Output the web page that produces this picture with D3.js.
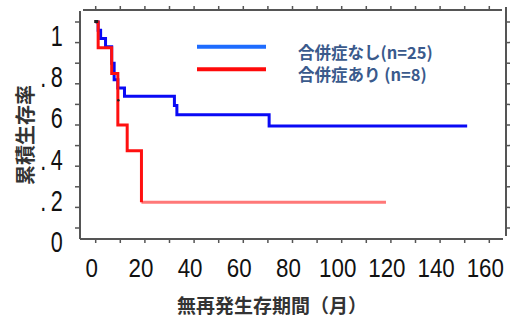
<!DOCTYPE html>
<html><head><meta charset="utf-8">
<script src="https://cdn.jsdelivr.net/npm/d3@7"></script>
<style>html,body{margin:0;padding:0;background:#fff;}svg{display:block;}</style>
</head><body>
<svg id="c" width="512" height="322"></svg>
<script>
// ---- data ----
const blueTimes = [0, 1, 2, 4, 6.5, 7.5, 9, 11.7, 32, 33, 70.5];
const blueSurv  = [1, 0.96, 0.92, 0.88, 0.80, 0.72, 0.68, 0.64, 0.595, 0.55, 0.495];
const blueEnd = 151;
const redTimes = [0, 1, 6.5, 9, 12.8, 18.6];
const redSurv  = [1, 0.875, 0.75, 0.5, 0.375, 0.125];
const redEnd = 118;
const xTickLabels = [0, 20, 40, 60, 80, 100, 120, 140, 160];
const yTickValues = [0, 0.2, 0.4, 0.6, 0.8, 1];
const yTickLabels = ["0", ".2", ".4", "6", ".8", "1"];
const legendLabels = ["合併症なし(n=25)", "合併症あり (n=8)"];
const xTitle = "無再発生存期間（月）";
const yTitle = "累積生存率";

// ---- layout ----
const svg = d3.select("#c");
const x = d3.scaleLinear().domain([0, 160]).range([95.7, 489.3]);
const y = d3.scaleLinear().domain([0, 1]).range([228, 22]);
const axisColor = "#555";
const frameL = 80, frameR = 506, frameT = 10, frameB = 239;
const numFont = "'Liberation Sans', Arial, sans-serif";

// frame
svg.append("line").attr("x1", frameL).attr("x2", frameL).attr("y1", frameT + 1).attr("y2", frameB)
  .attr("stroke", axisColor).attr("stroke-width", 2);
svg.append("line").attr("x1", frameL).attr("x2", 503).attr("y1", frameB).attr("y2", frameB)
  .attr("stroke", axisColor).attr("stroke-width", 2);
svg.append("line").attr("x1", 83).attr("x2", 502).attr("y1", frameT).attr("y2", frameT)
  .attr("stroke", axisColor).attr("stroke-width", 2);
svg.append("line").attr("x1", frameR).attr("x2", frameR).attr("y1", 7).attr("y2", 236)
  .attr("stroke", axisColor).attr("stroke-width", 2);

// ticks
const xMinor = d3.range(0, 161, 10);
const yMinor = d3.range(0, 11).map(d => d / 10);
svg.selectAll(".xtb").data(xMinor).join("line")
  .attr("x1", d => x(d)).attr("x2", d => x(d)).attr("y1", frameB).attr("y2", frameB + 4)
  .attr("stroke", axisColor).attr("stroke-width", 1.5);
svg.selectAll(".xtt").data(xMinor).join("line")
  .attr("x1", d => x(d)).attr("x2", d => x(d)).attr("y1", frameT).attr("y2", frameT - 4)
  .attr("stroke", axisColor).attr("stroke-width", 1.5);
svg.selectAll(".ytl").data(yMinor).join("line")
  .attr("x1", frameL).attr("x2", frameL - 5).attr("y1", d => y(d)).attr("y2", d => y(d))
  .attr("stroke", axisColor).attr("stroke-width", 1.5);
svg.selectAll(".ytr").data(yMinor).join("line")
  .attr("x1", frameR).attr("x2", frameR + 4).attr("y1", d => y(d)).attr("y2", d => y(d))
  .attr("stroke", axisColor).attr("stroke-width", 1.5);

// tick labels
svg.selectAll(".xl").data(xTickLabels).join("text")
  .attr("transform", d => `translate(${x(d) - 4},${frameB + 38}) scale(0.86,1)`)
  .attr("text-anchor", "middle")
  .attr("font-family", numFont)
  .attr("font-size", 26).attr("fill", "#111")
  .text(d => d);
svg.selectAll(".yl").data(yTickValues).join("text")
  .attr("transform", d => `translate(67,${y(d) + 24}) scale(0.72,1)`)
  .attr("text-anchor", "end")
  .attr("font-family", numFont)
  .attr("font-size", 30).attr("fill", "#111").attr("letter-spacing", 6)
  .text((d, i) => yTickLabels[i]);

// axis titles
svg.append("text").attr("transform", "translate(33,135) rotate(-90)")
  .attr("text-anchor", "middle").attr("font-family", "'Noto Sans CJK JP', sans-serif")
  .attr("font-size", 20).attr("font-weight", "bold").attr("fill", "#333").text(yTitle);
svg.append("text").attr("x", 272).attr("y", 313)
  .attr("text-anchor", "middle").attr("font-family", "'Noto Sans CJK JP', sans-serif")
  .attr("font-size", 19).attr("font-weight", "bold").attr("fill", "#333").text(xTitle);

// curves
const line = d3.line().x(d => x(d[0])).y(d => y(d[1])).curve(d3.curveStepAfter);
const bluePts = blueTimes.map((t, i) => [t, blueSurv[i]]).concat([[blueEnd, blueSurv[blueSurv.length - 1]]]);
svg.append("path").attr("d", line(bluePts)).attr("fill", "none")
  .attr("stroke", "#0a0af5").attr("stroke-width", 3);
const redPts = redTimes.map((t, i) => [t, redSurv[i]]);
const last = redPts[redPts.length - 1];
svg.append("path").attr("d", line([[last[0], last[1]], [redEnd, last[1]]])).attr("fill", "none")
  .attr("stroke", "#ff7878").attr("stroke-width", 3);
svg.append("path").attr("d", line(redPts)).attr("fill", "none")
  .attr("stroke", "#ff1010").attr("stroke-width", 3);

// censor / start marks
svg.append("rect").attr("x", x(0) - 1.5).attr("y", y(1) - 2).attr("width", 4).attr("height", 3).attr("fill", "#222");
svg.append("circle").attr("cx", x(9) + 0.5).attr("cy", y(0.62)).attr("r", 1.3).attr("fill", "#222");

// legend
const legColors = ["#1e6cff", "#ff0a0a"];
const legY = [46.7, 69.3];
const textY = [53.3, 75];
legendLabels.forEach((lab, i) => {
  svg.append("line").attr("x1", 197).attr("x2", 266).attr("y1", legY[i]).attr("y2", legY[i])
    .attr("stroke", legColors[i]).attr("stroke-width", 4);
  svg.append("text").attr("x", 298).attr("y", textY[i] + 6)
    .attr("font-family", "'Noto Sans CJK JP', sans-serif").attr("font-size", 16.5)
    .attr("font-weight", "bold").attr("fill", "#3a5a8c").text(lab);
});
</script>
</body></html>
